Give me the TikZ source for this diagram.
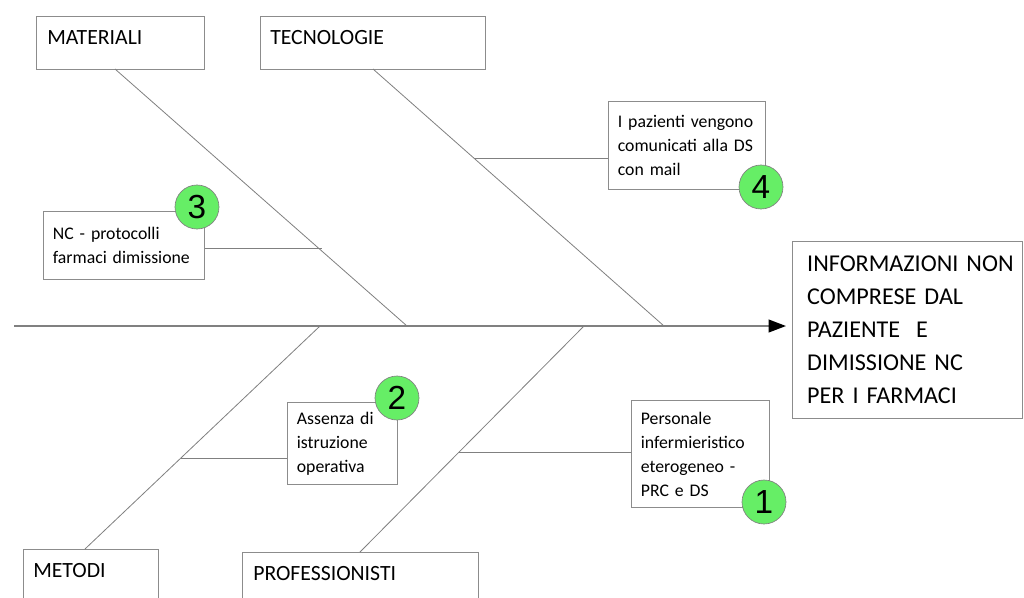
\documentclass[tikz,border=0pt]{standalone}
\usepackage{fontspec}
\setmainfont{Carlito}
\newfontfamily\numfont{Liberation Sans}
\usetikzlibrary{arrows.meta,calc}
\definecolor{linegray}{RGB}{128,128,128}
\definecolor{boxgray}{RGB}{140,140,140}
\definecolor{badgegreen}{RGB}{102,238,102}
\tikzset{
  bone/.style={draw=linegray, line width=0.6pt},
  spine/.style={draw=linegray, line width=1.4pt},
  catbox/.style={draw=boxgray, line width=0.8pt, anchor=north west, inner sep=0pt},
  cattext/.style={anchor=west, inner sep=0pt, font=\fontsize{16.3}{20}\selectfont},
  causebox/.style={draw=boxgray, line width=0.8pt, anchor=north west, align=left,
    inner xsep=7pt, inner ysep=0pt, font=\fontsize{13.3}{18}\selectfont},
  effbox/.style={draw=boxgray, line width=0.8pt, anchor=north west, align=left,
    inner xsep=11pt, inner ysep=0pt, font=\fontsize{18.1}{24.75}\selectfont},
  badge/.style={circle, draw=linegray, line width=0.5pt, fill=badgegreen,
    minimum size=33pt, inner sep=0pt, font=\numfont\fontsize{25}{25}\selectfont},
}
\begin{document}
\begin{tikzpicture}[x=0.75pt,y=-0.75pt]
\useasboundingbox (0,0) rectangle (1024,597);
\fill[white] (0,0) rectangle (1024,597);
\clip (0,0) rectangle (1024,597);

% category boxes
\node[catbox, minimum width=126pt, minimum height=39.75pt] (mat) at (36,16) {};
\node[cattext] (matt) at (47,38) {MATERIALI};
\node[catbox, minimum width=168.75pt, minimum height=39.75pt] (tec) at (260,16) {};
\node[cattext] (tect) at (270,38) {TECNOLOGIE};
\node[catbox, minimum width=101.25pt, minimum height=45pt] (met) at (23,549) {};
\node[cattext] (mett) at (33,571) {METODI};
\node[catbox, minimum width=177pt, minimum height=45pt] (pro) at (242,552) {};
\node[cattext] (prot) at (253,574) {PROFESSIONISTI};

% effect box
\node[effbox, text width=150.5pt, minimum height=132.75pt] (eff) at (792,241)
  {\hbox{INFORMAZIONI NON}\\COMPRESE DAL\\PAZIENTE\ \ E\\DIMISSIONE NC\\PER I FARMACI};

% cause boxes
\node[causebox, text width=103.75pt, minimum height=66pt] (b4) at (608,101)
  {I pazienti vengono\\comunicati alla DS\\con mail};
\node[causebox, text width=106.75pt, minimum height=51pt] (b3) at (43,211)
  {NC - protocolli\\farmaci dimissione};
\node[causebox, text width=68.5pt, minimum height=61.5pt] (b2) at (287,402)
  {Assenza di\\istruzione\\operativa};
\node[causebox, text width=89.5pt, minimum height=80.25pt] (b1) at (631,400)
  {Personale\\infermieristico\\eterogeneo -\\PRC e DS};

% spine coordinates
\coordinate (tail) at (14,326);
\coordinate (jm) at (407,326);
\coordinate (jt) at (664,326);
\coordinate (jme) at (320,326);
\coordinate (jp) at (584,326);
\coordinate (mtop) at (115,69);
\coordinate (ttop) at (373,69);
\coordinate (mebot) at (85,549);
\coordinate (pbot) at (360,552);

% main spine with arrow
\draw[spine, -{Triangle[length=13pt, width=9.5pt, color=black]}, shorten >=4.5pt]
  (tail) -- (eff.west |- tail);

% bones
\draw[bone] (mtop) -- (jm);
\draw[bone] (ttop) -- (jt);
\draw[bone] (mebot) -- (jme);
\draw[bone] (pbot) -- (jp);

% sub-bones
\coordinate (k4) at ($(ttop)!0.346!(jt)$);
\coordinate (k3) at ($(mtop)!0.71!(jm)$);
\coordinate (k2) at ($(mebot)!0.41!(jme)$);
\coordinate (k1) at ($(pbot)!0.44!(jp)$);
\coordinate (s4) at ([yshift=-9.75pt]b4.west);
\coordinate (s3) at ([yshift=-2.25pt]b3.east);
\coordinate (s2) at ([yshift=-11.25pt]b2.west);
\coordinate (s1) at ([yshift=1.1pt]b1.west);
\draw[bone] (s4) -- (k4 |- s4);
\draw[bone] (s3) -- (k3 |- s3);
\draw[bone] (s2) -- (k2 |- s2);
\draw[bone] (s1) -- (k1 |- s1);

% badges
\node[badge] (n1) at (764,502) {1};
\node[badge] (n2) at (397,398) {2};
\node[badge] (n3) at (197,207) {3};
\node[badge] (n4) at (761,187) {4};
\end{tikzpicture}
\end{document}
